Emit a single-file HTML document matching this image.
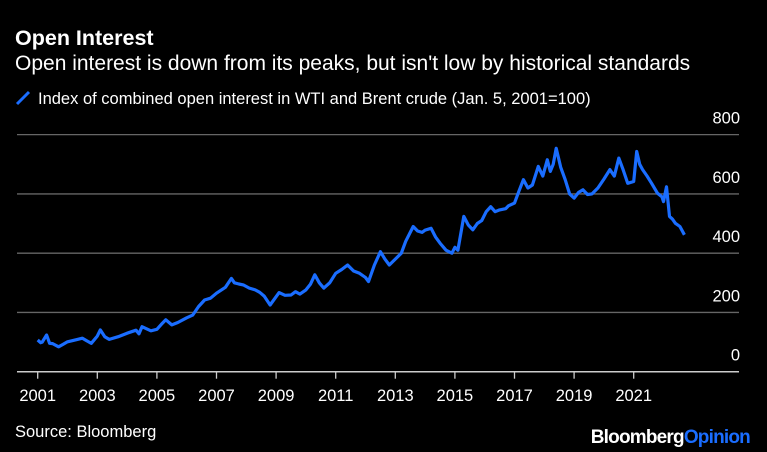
<!DOCTYPE html>
<html><head><meta charset="utf-8"><style>
body{margin:0;background:#000;width:767px;height:452px;overflow:hidden;font-family:"Liberation Sans",sans-serif;color:#fff}
svg{position:absolute;left:0;top:0}
</style></head><body>
<svg width="767" height="452">
<text x="15" y="45" font-size="21.5" font-weight="bold" fill="#fff">Open Interest</text>
<text x="15" y="70" font-size="21" fill="#fff">Open interest is down from its peaks, but isn't low by historical standards</text>
<line x1="17" y1="104" x2="29" y2="92" stroke="#1a6dff" stroke-width="3"/>
<text x="38" y="104" font-size="16.5" fill="#fff">Index of combined open interest in WTI and Brent crude (Jan. 5, 2001=100)</text>
<g id="grid"></g>
<g id="xaxis"></g>
<path id="line" fill="none" stroke="#1a6dff" stroke-width="3.2" stroke-linejoin="round"/>
<text x="15" y="437" font-size="16.5" fill="#fff">Source: Bloomberg</text>
<text x="750" y="443" font-size="19" font-weight="bold" text-anchor="end" letter-spacing="-0.8"><tspan fill="#fff">Bloomberg</tspan><tspan fill="#1a6dff">Opinion</tspan></text>
</svg>
<script>
const years=[2001.0,2001.1,2001.15,2001.3,2001.4,2001.5,2001.7,2001.85,2002.0,2002.3,2002.5,2002.65,2002.8,2003.0,2003.1,2003.25,2003.4,2003.7,2004.0,2004.3,2004.4,2004.5,2004.8,2005.0,2005.15,2005.3,2005.5,2005.7,2006.0,2006.2,2006.4,2006.6,2006.8,2007.0,2007.3,2007.5,2007.6,2007.75,2007.9,2008.1,2008.3,2008.45,2008.6,2008.8,2009.1,2009.3,2009.5,2009.65,2009.8,2010.0,2010.15,2010.3,2010.45,2010.6,2010.8,2011.0,2011.2,2011.4,2011.6,2011.8,2012.0,2012.1,2012.3,2012.5,2012.65,2012.8,2013.0,2013.2,2013.35,2013.6,2013.75,2013.9,2014.0,2014.2,2014.35,2014.5,2014.7,2014.9,2015.0,2015.1,2015.3,2015.45,2015.6,2015.75,2015.9,2016.05,2016.2,2016.35,2016.5,2016.7,2016.8,2017.0,2017.15,2017.3,2017.45,2017.6,2017.8,2017.95,2018.1,2018.2,2018.3,2018.4,2018.55,2018.7,2018.85,2019.0,2019.15,2019.3,2019.45,2019.6,2019.8,2020.0,2020.2,2020.35,2020.5,2020.65,2020.8,2021.0,2021.1,2021.2,2021.3,2021.45,2021.6,2021.8,2021.95,2022.0,2022.1,2022.2,2022.3,2022.4,2022.55,2022.7];
const values=[107,98,100,124,96,95,84,92,101,108,113,104,96,120,141,118,109,118,130,140,128,152,138,143,160,175,158,166,182,191,220,242,248,265,285,315,300,296,293,282,276,268,255,225,267,258,259,270,262,276,295,327,300,282,300,332,345,360,340,332,318,304,360,405,380,360,380,400,440,490,475,470,478,484,455,434,410,400,420,410,524,495,479,500,510,540,557,540,546,550,560,569,610,648,620,630,693,660,715,676,700,754,690,648,600,586,605,614,598,600,620,650,682,660,721,680,636,642,743,700,682,660,636,602,590,574,624,524,515,501,490,462];
const yTicks=[0,200,400,600,800];
const xTicks=[2001,2003,2005,2007,2009,2011,2013,2015,2017,2019,2021];
const X=y=>37.7+(y-2001)*29.8;
const Y=v=>371.7-v*0.2963;
const ns="http://www.w3.org/2000/svg";
const g=document.getElementById('grid');
yTicks.forEach(t=>{
 if(t>0){const l=document.createElementNS(ns,'line');
 l.setAttribute('x1',17);l.setAttribute('x2',739);l.setAttribute('y1',Y(t));l.setAttribute('y2',Y(t));
 l.setAttribute('stroke','#666');l.setAttribute('stroke-width','1.3');
 
 
 g.appendChild(l);}
 const tx=document.createElementNS(ns,'text');
 tx.setAttribute('x',740);tx.setAttribute('y',Y(t)-11);tx.setAttribute('text-anchor','end');
 tx.setAttribute('font-size','16.5');tx.setAttribute('fill','#fff');tx.textContent=t;
 
 
 g.appendChild(tx);
});
const xa=document.getElementById('xaxis');
const base=document.createElementNS(ns,'line');
base.setAttribute('x1',17);base.setAttribute('x2',739);base.setAttribute('y1',Y(0));base.setAttribute('y2',Y(0));
base.setAttribute('stroke','#ccc');base.setAttribute('stroke-width','1.5');


xa.appendChild(base);
xTicks.forEach(t=>{
 const l=document.createElementNS(ns,'line');
 l.setAttribute('x1',X(t));l.setAttribute('x2',X(t));l.setAttribute('y1',Y(0));l.setAttribute('y2',Y(0)+7);
 l.setAttribute('stroke','#ccc');l.setAttribute('stroke-width','1.3');
 
 
 xa.appendChild(l);
 const tx=document.createElementNS(ns,'text');
 tx.setAttribute('x',X(t));tx.setAttribute('y',401);tx.setAttribute('text-anchor','middle');
 tx.setAttribute('font-size','16.5');tx.setAttribute('fill','#fff');tx.textContent=t;
 
 
 xa.appendChild(tx);
});
document.getElementById('line').setAttribute('d',years.map((y,i)=>(i?'L':'M')+X(y).toFixed(1)+','+Y(values[i]).toFixed(1)).join(''));
</script>
</body></html>
